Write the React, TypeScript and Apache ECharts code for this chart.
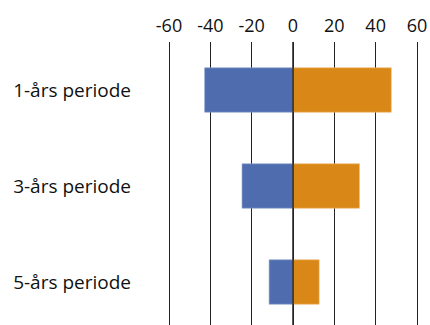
import React, { useEffect, useRef } from "react";
import * as echarts from "echarts";

const categories = ["1-års periode", "3-års periode", "5-års periode"];
const negativeValues = [-42.9, -24.8, -11.7];
const positiveValues = [47.7, 32.3, 12.8];
const xTicks = { min: -60, max: 60, interval: 20 };

export default function App() {
  const ref = useRef<HTMLDivElement>(null);
  useEffect(() => {
    if (!ref.current) return;
    const chart = echarts.init(ref.current, null, { renderer: "svg" });
    const font = "'Open Sans', sans-serif";
    chart.setOption({
      animation: false,
      grid: {
        left: 169,
        right: 13,
        top: 42,
        height: 288,
        containLabel: false,
        outerBoundsMode: "none",
      },
      xAxis: {
        type: "value",
        position: "top",
        min: xTicks.min,
        max: xTicks.max,
        interval: xTicks.interval,
        axisLine: { show: false },
        axisTick: { show: false },
        axisLabel: { color: "#111", fontSize: 18, fontFamily: font, margin: 8 },
        splitLine: { show: true, lineStyle: { color: "#222", width: 1 } },
      },
      yAxis: {
        type: "category",
        data: categories,
        inverse: true,
        axisLine: { show: false },
        axisTick: { show: false },
        axisLabel: { color: "#111", fontSize: 19, fontFamily: font, margin: 38 },
      },
      series: [
        {
          type: "bar",
          stack: "s",
          data: negativeValues,
          barWidth: 45,
          itemStyle: { color: "#4F6DAE", borderColor: "#8FA3D0", borderWidth: 0.6 },
        },
        {
          type: "bar",
          stack: "s",
          data: positiveValues,
          barWidth: 45,
          itemStyle: { color: "#D98717", borderColor: "#EDB870", borderWidth: 0.6 },
          markLine: {
            silent: true,
            symbol: "none",
            label: { show: false },
            lineStyle: { color: "#222", width: 1.5, type: "solid" },
            data: [{ xAxis: 0 }],
            z: 10,
          },
        },
      ],
    });
    return () => chart.dispose();
  }, []);
  return (
    <div
      ref={ref}
      style={{ position: "fixed", left: 0, top: 0, width: 430, height: 325, background: "#fff" }}
    />
  );
}
